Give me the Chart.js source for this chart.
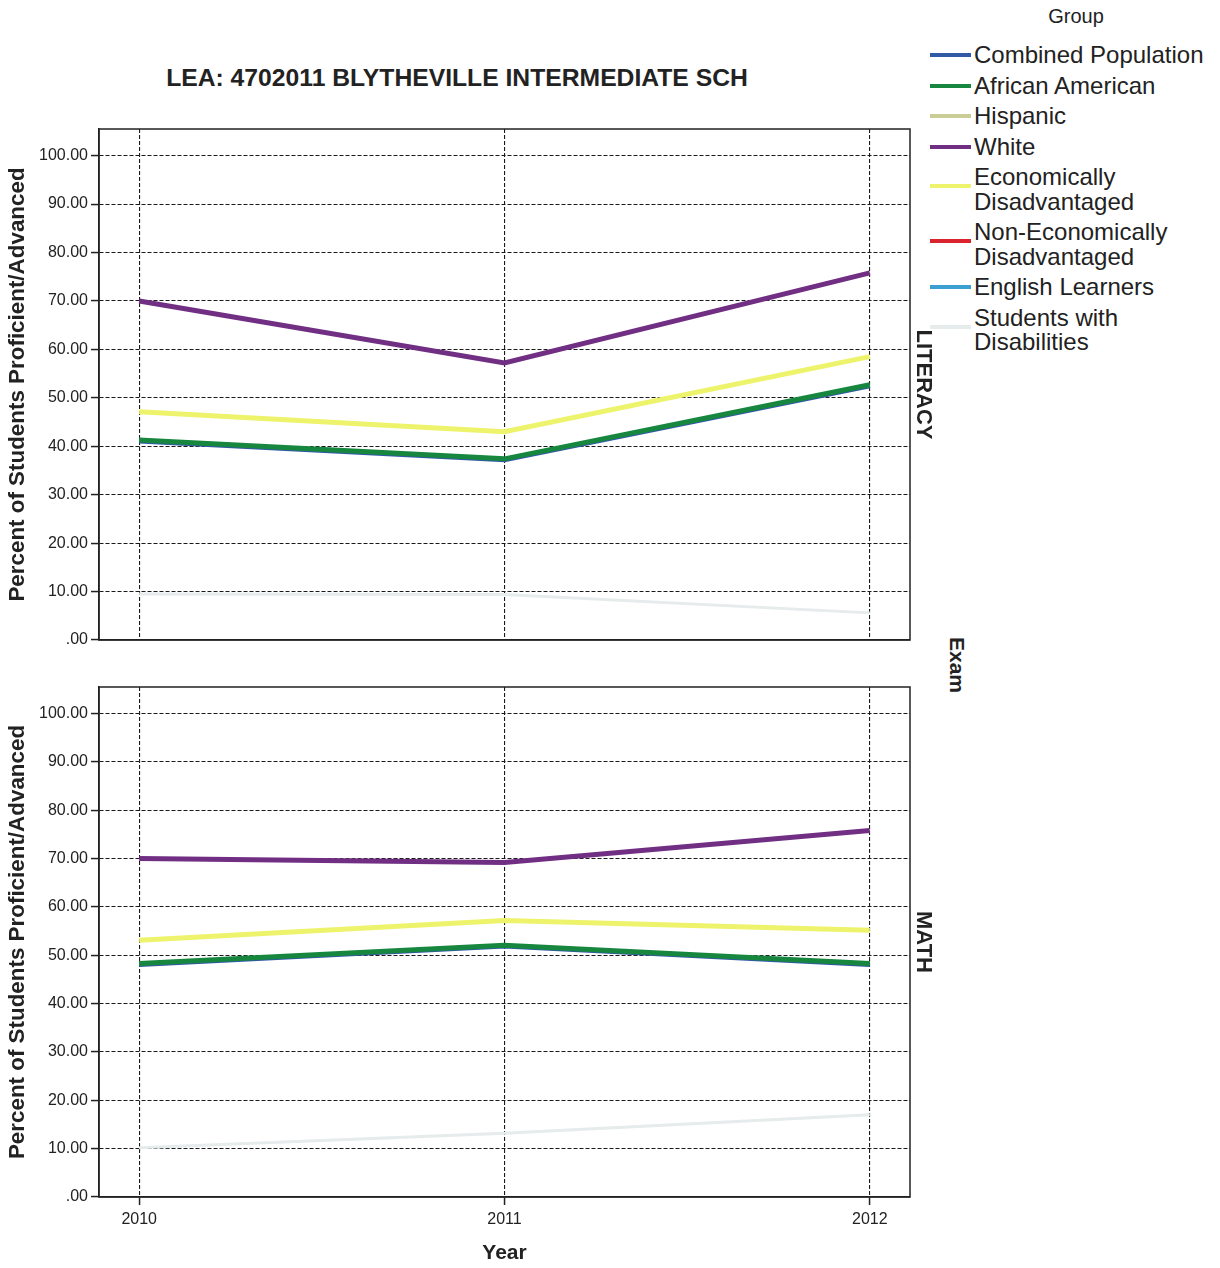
<!DOCTYPE html>
<html>
<head>
<meta charset="utf-8">
<script src="https://cdn.jsdelivr.net/npm/chart.js@4.4.0/dist/chart.umd.min.js"></script>
<style>
  body { margin:0; background:#fff; width:1220px; height:1268px; position:relative; overflow:hidden;
         font-family: Arial, "Liberation Sans", sans-serif; color:#222; }
  .abs { position:absolute; }
  #title { left:0; top:63px; width:914px; text-align:center; font-weight:bold; font-size:24.7px; line-height:30px; }
  #groupHead { left:1026px; top:4px; width:100px; text-align:center; font-size:20px; line-height:24px; }
  #legend { left:930px; top:43px; }
  .row { position:relative; margin-bottom:6px; }
  .sw { position:absolute; left:0; width:41px; height:4px; }
  .lbl { margin-left:44px; width:246px; font-size:24px; line-height:24.5px; }
  #exam { left:957px; top:665px; font-weight:bold; font-size:21px; transform:translate(-50%,-50%) rotate(90deg); }
  #topChart { left:0; top:100px; }
  #botChart { left:0; top:650px; }
</style>
</head>
<body>
<div id="title" class="abs">LEA: 4702011 BLYTHEVILLE INTERMEDIATE SCH</div>
<div id="groupHead" class="abs">Group</div>
<div id="legend" class="abs"></div>
<div id="exam" class="abs">Exam</div>
<canvas id="topChart" class="abs" width="960" height="560"></canvas>
<canvas id="botChart" class="abs" width="960" height="618"></canvas>
<script>
const years = [2010, 2011, 2012];
const yTicks = [0, 10, 20, 30, 40, 50, 60, 70, 80, 90, 100];
const groups = ['Combined Population', 'African American', 'Hispanic', 'White',
  'Economically Disadvantaged', 'Non-Economically Disadvantaged', 'English Learners', 'Students with Disabilities'];
const groupColors = ['#3159a6', '#17873f', '#cacd95', '#712f84', '#eef36c', '#d9232f', '#3b9fd2', '#e6ebec'];

// literacy, one value per year
const litCombined = [41.1, 37.2, 52.5];
const litAfricanAmerican = [41.3, 37.4, 52.7];
const litHispanic = [null, null, null];
const litWhite = [70.0, 57.2, 75.8];
const litEconDis = [47.1, 43.0, 58.5];
const litNonEconDis = [null, null, null];
const litEnglishLearners = [null, null, null];
const litDisabilities = [9.5, 9.4, 5.6];

// math
const mathCombined = [48.1, 51.9, 48.1];
const mathAfricanAmerican = [48.3, 52.1, 48.3];
const mathHispanic = [null, null, null];
const mathWhite = [70.0, 69.2, 75.8];
const mathEconDis = [53.1, 57.2, 55.2];
const mathNonEconDis = [null, null, null];
const mathEnglishLearners = [null, null, null];
const mathDisabilities = [10.2, 13.2, 17.0];

const litSeries = [litCombined, litAfricanAmerican, litHispanic, litWhite, litEconDis, litNonEconDis, litEnglishLearners, litDisabilities];
const mathSeries = [mathCombined, mathAfricanAmerican, mathHispanic, mathWhite, mathEconDis, mathNonEconDis, mathEnglishLearners, mathDisabilities];

Chart.defaults.font.family = 'Arial, "Liberation Sans", sans-serif';
Chart.defaults.color = '#222';

// legend
const legendEl = document.getElementById('legend');
groups.forEach((g, i) => {
  const row = document.createElement('div');
  row.className = 'row';
  const sw = document.createElement('div');
  sw.className = 'sw';
  sw.style.background = groupColors[i];
  const lbl = document.createElement('div');
  lbl.className = 'lbl';
  lbl.textContent = g;
  row.appendChild(sw);
  row.appendChild(lbl);
  legendEl.appendChild(row);
  sw.style.top = (lbl.offsetHeight > 30 ? 19 : 10) + 'px';
});

const framePlugin = {
  id: 'frame',
  beforeDatasetsDraw(chart) {
    const { ctx, chartArea: a } = chart;
    ctx.save();
    ctx.strokeStyle = '#222';
    ctx.lineWidth = 1.5;
    ctx.strokeRect(a.left, a.top, a.right - a.left, a.bottom - a.top);
    ctx.restore();
  }
};

function makePanel(id, series, rightTitle, showX, padding) {
  const datasets = series.map((vals, i) => ({
    label: groups[i],
    data: years.map((y, j) => ({ x: y, y: vals[j] })),
    borderColor: groupColors[i],
    backgroundColor: groupColors[i],
    borderWidth: i === 7 ? 3 : 5,
    pointRadius: 0,
    tension: 0,
    order: i === 0 ? 9 : i
  }));

  return new Chart(document.getElementById(id), {
    type: 'line',
    data: { datasets },
    options: {
      responsive: false,
      animation: false,
      layout: { padding },
      plugins: { legend: { display: false }, tooltip: { enabled: false } },
      scales: {
        x: {
          type: 'linear',
          min: 2009.89,
          max: 2012.11,
          afterBuildTicks: s => { s.ticks = years.map(v => ({ value: v })); },
          afterFit: s => { s.height = showX ? 69 : 0; },
          grid: { color: '#1a1a1a', lineWidth: 1.1, drawTicks: showX, tickLength: 8, tickColor: '#222', tickWidth: 1.5 },
          border: { color: '#222', width: 1.5, dash: [4, 2] },
          ticks: { display: showX, padding: 5, font: { size: 16 }, maxRotation: 0, autoSkip: false, callback: v => String(v) },
          title: { display: showX, text: 'Year', font: { size: 21, weight: 'bold' }, padding: { top: 4, bottom: 0 } }
        },
        y: {
          min: 0,
          max: 105.5,
          afterBuildTicks: s => { s.ticks = yTicks.map(v => ({ value: v })); },
          afterFit: s => { s.width = 99; },
          grid: { color: '#1a1a1a', lineWidth: 1.1, tickLength: 8, tickColor: '#222', tickWidth: 1.5 },
          border: { color: '#222', width: 1.5, dash: [4, 2] },
          ticks: { padding: 3, font: { size: 16 }, callback: v => v === 0 ? '.00' : v.toFixed(2) },
          title: { display: true, text: 'Percent of Students Proficient/Advanced', font: { size: 22.4, weight: 'bold' } }
        },
        y2: {
          position: 'right',
          min: 0,
          max: 105.5,
          afterFit: s => { s.width = 30; },
          grid: { display: false },
          border: { display: false },
          ticks: { display: false },
          title: { display: true, text: rightTitle, font: { size: 22, weight: 'bold' } }
        }
      }
    },
    plugins: [framePlugin]
  });
}

makePanel('topChart', litSeries, 'LITERACY', false, { left: 0, top: 29, right: 20, bottom: 20 });
makePanel('botChart', mathSeries, 'MATH', true, { left: 0, top: 37, right: 20, bottom: 2 });
</script>
</body>
</html>
